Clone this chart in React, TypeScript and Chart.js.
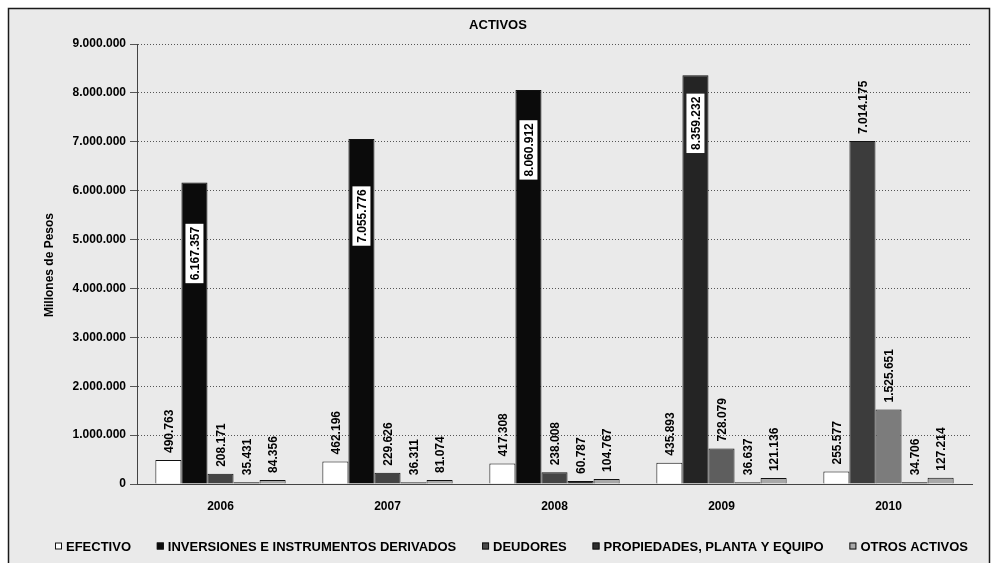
import { useEffect, useRef } from 'react';
import { Chart, registerables } from 'chart.js';

Chart.register(...registerables);

const CATEGORIES = ['2006', '2007', '2008', '2009', '2010'];
const SERIES_LABELS = [
  'EFECTIVO',
  'INVERSIONES E INSTRUMENTOS DERIVADOS',
  'DEUDORES',
  'PROPIEDADES, PLANTA Y EQUIPO',
  'OTROS ACTIVOS',
];
const EFECTIVO = [490763, 462196, 417308, 435893, 255577];
const INVERSIONES = [6167357, 7055776, 8060912, 8359232, 7014175];
const DEUDORES = [208171, 229626, 238008, 728079, 1525651];
const PROPIEDADES = [35431, 36311, 60787, 36637, 34706];
const OTROS = [84356, 81074, 104767, 121136, 127214];
const Y_MAX = 9000000;
const Y_STEP = 1000000;
const TITLE = 'ACTIVOS';
const Y_TITLE = 'Millones de Pesos';

const FONT = "'Liberation Sans', Arial, sans-serif";

const fmt = (v: number) =>
  Math.round(v)
    .toString()
    .replace(/\B(?=(\d{3})+(?!\d))/g, '.');

// style: offsets (px from bar top) of the boxed labels drawn inside the big bars
const INSIDE_OFFSETS = [71, 77, 60, 48];

const LEGEND_FILLS = ['#ffffff', '#0b0b0b', '#4a4a4a', '#2e2e2e', '#a8a8a8'];

const decorPlugin = {
  id: 'decor',
  beforeDraw(chart: any) {
    const { ctx, width, height } = chart;
    ctx.save();
    ctx.fillStyle = '#ffffff';
    ctx.fillRect(0, 0, width, height);
    ctx.fillStyle = '#eaeaea';
    ctx.fillRect(9, 9, 980, height);
    ctx.strokeStyle = '#1a1a1a';
    ctx.lineWidth = 1.5;
    ctx.strokeRect(8.5, 8.5, 981, height + 20);
    ctx.restore();
  },
  afterDraw(chart: any) {
    const { ctx } = chart;
    ctx.save();
    ctx.fillStyle = '#000';
    // title
    ctx.font = `bold 13px ${FONT}`;
    ctx.textAlign = 'center';
    ctx.textBaseline = 'middle';
    ctx.fillText(TITLE, 498, 25);
    // y title
    ctx.save();
    ctx.translate(50, 265);
    ctx.rotate(-Math.PI / 2);
    ctx.font = `bold 12px ${FONT}`;
    ctx.fillText(Y_TITLE, 0, 0);
    ctx.restore();
    // legend
    ctx.font = `bold 13px ${FONT}`;
    ctx.textAlign = 'left';
    const labels = chart.data.datasets.map((d: any) => d.label);
    const box = 7;
    const gapBoxText = 4;
    const widths = labels.map((l: string) => box + gapBoxText + ctx.measureText(l).width);
    const startX = 55;
    const endX = 968;
    const total = widths.reduce((a: number, b: number) => a + b, 0);
    const gap = (endX - startX - total) / (labels.length - 1);
    let x = startX;
    const y = 546;
    labels.forEach((l: string, i: number) => {
      ctx.fillStyle = LEGEND_FILLS[i];
      ctx.fillRect(x, y - box / 2, box, box);
      ctx.strokeStyle = '#111';
      ctx.lineWidth = 1;
      ctx.strokeRect(x + 0.5, y - box / 2 + 0.5, box - 1, box - 1);
      ctx.fillStyle = '#000';
      ctx.fillText(l, x + box + gapBoxText, y + 1);
      x += widths[i] + gap;
    });
    ctx.restore();
  },
};

const labelPlugin = {
  id: 'barLabels',
  afterDatasetsDraw(chart: any) {
    const { ctx } = chart;
    ctx.save();
    ctx.font = `bold 12px ${FONT}`;
    ctx.textBaseline = 'middle';
    chart.data.datasets.forEach((ds: any, di: number) => {
      const meta = chart.getDatasetMeta(di);
      meta.data.forEach((bar: any, i: number) => {
        const text = fmt(ds.data[i]);
        const w = ctx.measureText(text).width;
        const inside = di === 1 && i < INSIDE_OFFSETS.length;
        ctx.save();
        if (inside) {
          const cy = bar.y + INSIDE_OFFSETS[i];
          ctx.translate(bar.x, cy);
          ctx.rotate(-Math.PI / 2);
          ctx.fillStyle = '#ffffff';
          ctx.fillRect(-w / 2 - 3, -9, w + 6, 18);
          ctx.fillStyle = '#000';
          ctx.textAlign = 'center';
          ctx.fillText(text, 0, 1);
        } else {
          ctx.translate(bar.x, bar.y - 7);
          ctx.rotate(-Math.PI / 2);
          ctx.fillStyle = '#000';
          ctx.textAlign = 'left';
          ctx.fillText(text, 0, 1);
        }
        ctx.restore();
      });
    });
    ctx.restore();
  },
};

export default function App() {
  const ref = useRef<HTMLCanvasElement>(null);
  useEffect(() => {
    document.body.style.margin = '0';
    const canvas = ref.current;
    if (!canvas) return;
    const series = [EFECTIVO, INVERSIONES, DEUDORES, PROPIEDADES, OTROS];
    const fills: (string | string[])[] = [
      '#ffffff',
      ['#0b0b0b', '#0b0b0b', '#0b0b0b', '#242424', '#3c3c3c'],
      ['#444444', '#444444', '#444444', '#5e5e5e', '#7c7c7c'],
      '#2e2e2e',
      '#a8a8a8',
    ];
    const chart = new Chart(canvas, {
      type: 'bar',
      data: {
        labels: CATEGORIES,
        datasets: series.map((d, i) => ({
          label: SERIES_LABELS[i],
          data: d,
          backgroundColor: fills[i] as any,
          borderColor: '#111111',
          borderWidth: 1,
          categoryPercentage: 0.78,
          barPercentage: 1,
        })),
      },
      options: {
        responsive: false,
        animation: false,
        layout: { padding: { top: 44, left: 0, right: 20, bottom: 0 } },
        plugins: {
          legend: { display: false },
          title: { display: false },
          tooltip: { enabled: false },
        },
        scales: {
          x: {
            offset: true,
            grid: { display: false, drawTicks: false },
            border: { display: true, color: '#444', dash: [1, 2] },
            ticks: {
              padding: 15,
              color: '#000',
              font: { family: FONT, size: 12, weight: 'bold' },
            },
            afterFit: (s: any) => {
              s.height = 79;
            },
          },
          y: {
            min: 0,
            max: Y_MAX,
            ticks: {
              stepSize: Y_STEP,
              padding: 4,
              color: '#000',
              font: { family: FONT, size: 12, weight: 'bold' },
              callback: (v: any) => fmt(Number(v)),
            },
            grid: {
              color: '#555',
              lineWidth: 1,
              tickLength: 7,
              tickColor: '#555',
            },
            border: { display: true, color: '#444', dash: [1, 2] },
            afterFit: (s: any) => {
              s.width = 137;
            },
          },
        },
      } as any,
      plugins: [decorPlugin, labelPlugin],
    });
    return () => chart.destroy();
  }, []);
  return (
    <div style={{ width: 992, height: 563 }}>
      <canvas ref={ref} width={992} height={563} style={{ display: 'block' }} />
    </div>
  );
}
